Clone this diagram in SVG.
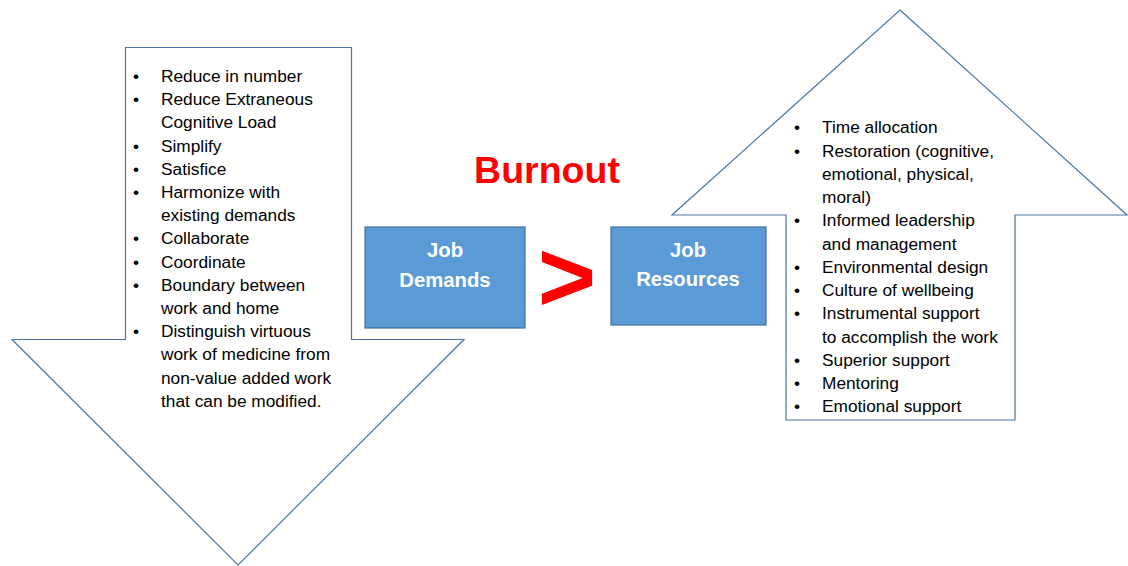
<svg xmlns="http://www.w3.org/2000/svg" width="1128" height="566" viewBox="0 0 1128 566">
<style>
.arr{fill:#fff;stroke:#4a76a8;stroke-width:1.2}
.box{fill:#5b9bd5;stroke:#41719c;stroke-width:1.2}
.bl{font-family:"Liberation Sans",Arial,sans-serif;font-size:17.3px;fill:#000}
.bt{font-family:"Liberation Sans",Arial,sans-serif;font-size:20.3px;font-weight:bold;fill:#fff;text-anchor:middle}
.red{font-family:"Liberation Sans",Arial,sans-serif;font-weight:bold;fill:#ff0000;text-anchor:middle}
</style>
<rect width="1128" height="566" fill="#fff"/>
<g id="demands-arrow">
<polygon class="arr" points="125.5,47.5 351.5,47.5 351.5,339.5 464,339.5 238,565 12,339.5 125.5,339.5"/>
<g class="bl">
<text x="133" y="82">•</text><text x="161" y="82">Reduce in number</text>
<text x="133" y="105">•</text><text x="161" y="105">Reduce Extraneous</text>
<text x="161" y="128">Cognitive Load</text>
<text x="133" y="152">•</text><text x="161" y="152">Simplify</text>
<text x="133" y="175">•</text><text x="161" y="175">Satisfice</text>
<text x="133" y="198">•</text><text x="161" y="198">Harmonize with</text>
<text x="161" y="221">existing demands</text>
<text x="133" y="244">•</text><text x="161" y="244">Collaborate</text>
<text x="133" y="268">•</text><text x="161" y="268">Coordinate</text>
<text x="133" y="291">•</text><text x="161" y="291">Boundary between</text>
<text x="161" y="314">work and home</text>
<text x="133" y="337">•</text><text x="161" y="337">Distinguish virtuous</text>
<text x="161" y="360">work of medicine from</text>
<text x="161" y="384">non-value added work</text>
<text x="161" y="407">that can be modified.</text>
</g>
</g>
<g id="resources-arrow">
<polygon class="arr" points="900,10 1127,215 1015,215 1015,420 786,420 786,215 672,215"/>
<g class="bl">
<text x="794" y="133">•</text><text x="822" y="133">Time allocation</text>
<text x="794" y="157">•</text><text x="822" y="157">Restoration (cognitive,</text>
<text x="822" y="180">emotional, physical,</text>
<text x="822" y="203">moral)</text>
<text x="794" y="226">•</text><text x="822" y="226">Informed leadership</text>
<text x="822" y="250">and management</text>
<text x="794" y="273">•</text><text x="822" y="273">Environmental design</text>
<text x="794" y="296">•</text><text x="822" y="296">Culture of wellbeing</text>
<text x="794" y="319">•</text><text x="822" y="319">Instrumental support</text>
<text x="822" y="343">to accomplish the work</text>
<text x="794" y="366">•</text><text x="822" y="366">Superior support</text>
<text x="794" y="389">•</text><text x="822" y="389">Mentoring</text>
<text x="794" y="412">•</text><text x="822" y="412">Emotional support</text>
</g>
</g>
<g id="job-demands">
<rect class="box" x="365" y="227" width="160" height="101"/>
<text class="bt" x="445" y="257">Job</text>
<text class="bt" x="445" y="287">Demands</text>
</g>
<g id="job-resources">
<rect class="box" x="611" y="227" width="155" height="98"/>
<text class="bt" x="688" y="257">Job</text>
<text class="bt" x="688" y="286">Resources</text>
</g>
<g id="burnout">
<text class="red" x="547" y="183" font-size="37.5">Burnout</text>
</g>
<g id="connectors">
<text class="red" x="567" y="311" font-size="100">&gt;</text>
</g>
</svg>
